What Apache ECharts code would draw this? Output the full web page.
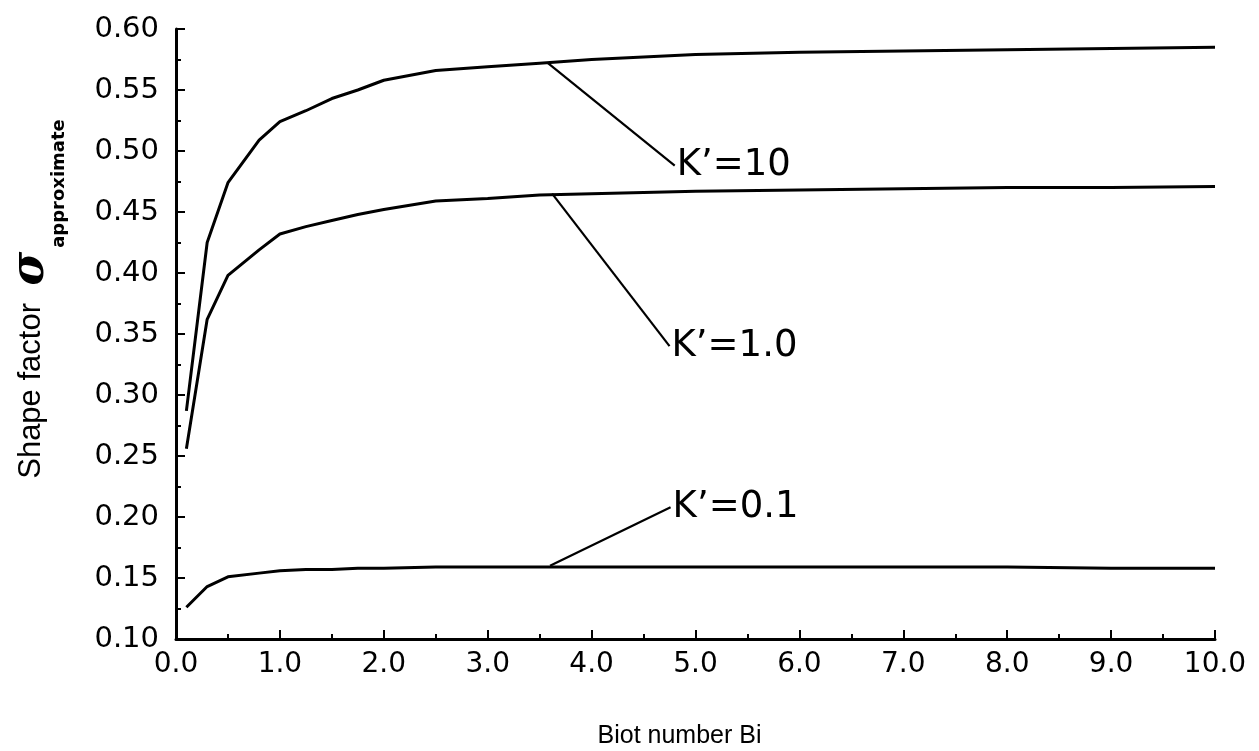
<!DOCTYPE html>
<html>
<head>
<meta charset="utf-8">
<script src="https://cdn.jsdelivr.net/npm/echarts@6/dist/echarts.min.js"></script>
<style>
html,body{margin:0;padding:0;background:#fff;}
#chart{width:1259px;height:751px;}
</style>
</head>
<body>
<div id="chart"></div>
<script>
// Biot number values (x)
const biot = [0.1, 0.3, 0.5, 0.8, 1.0, 1.25, 1.5, 1.75, 2.0, 2.5, 3.0, 3.5, 4.0, 5.0, 6.0, 7.0, 8.0, 9.0, 10.0];
// Shape factor curves
const k10 = [0.287, 0.425, 0.474, 0.509, 0.524, 0.533, 0.543, 0.550, 0.558, 0.566, 0.569, 0.572, 0.575, 0.579, 0.581, 0.582, 0.583, 0.584, 0.585];
const k1  = [0.256, 0.362, 0.398, 0.419, 0.432, 0.438, 0.443, 0.448, 0.452, 0.459, 0.461, 0.464, 0.465, 0.467, 0.468, 0.469, 0.470, 0.470, 0.471];
const k01 = [0.126, 0.143, 0.151, 0.154, 0.156, 0.157, 0.157, 0.158, 0.158, 0.159, 0.159, 0.159, 0.159, 0.159, 0.159, 0.159, 0.159, 0.158, 0.158];
const seriesNames = ["K’=10", "K’=1.0", "K’=0.1"];
// leader lines: [startBi, startValue, endBi, endValue]
const leader10 = [3.58, 0.572, 4.80, 0.488];
const leader1  = [3.62, 0.465, 4.75, 0.340];
const leader01 = [3.60, 0.160, 4.76, 0.208];
// axis ranges / ticks
const xRange = [0, 10, 1];
const yRange = [0.10, 0.60, 0.05];

const chart = echarts.init(document.getElementById('chart'), null, {renderer: 'canvas'});

function makeSeries(name, vals, ld) {
  return {
    name: name,
    type: 'line',
    data: biot.map((b, i) => [b, vals[i]]),
    symbol: 'none',
    smooth: false,
    lineStyle: {color: '#000', width: 3},
    z: 3,
    markLine: {
      silent: true,
      symbol: ['none', 'none'],
      lineStyle: {color: '#000', width: 2.2, type: 'solid'},
      label: {show: false},
      emphasis: {disabled: true},
      data: [[{coord: [ld[0], ld[1]]}, {coord: [ld[2], ld[3]]}]]
    },
    markPoint: {
      silent: true,
      symbol: 'circle',
      symbolSize: 0.1,
      itemStyle: {color: 'rgba(0,0,0,0)'},
      label: {
        show: true,
        position: 'right',
        distance: 2,
        formatter: name,
        color: '#000',
        fontFamily: 'DejaVu Sans',
        fontSize: 37
      },
      data: [{coord: [ld[2], ld[3]]}]
    }
  };
}

const option = {
  animation: false,
  backgroundColor: '#fff',
  grid: {left: 176, right: 44, top: 29, bottom: 112, containLabel: false, outerBoundsMode: 'none'},
  xAxis: {
    type: 'value',
    min: xRange[0], max: xRange[1], interval: xRange[2],
    name: 'Biot number Bi',
    nameLocation: 'middle',
    nameGap: 85,
    nameTextStyle: {color: '#000', fontFamily: 'Liberation Sans', fontSize: 25, padding: [0, 32, 0, 0]},
    axisLine: {show: true, onZero: false, lineStyle: {color: '#000', width: 3}},
    axisTick: {show: true, inside: true, length: 9, lineStyle: {color: '#000', width: 2}},
    minorTick: {show: true, splitNumber: 2, length: 5, lineStyle: {color: '#000', width: 2}},
    splitLine: {show: false},
    axisLabel: {
      color: '#000', fontFamily: 'DejaVu Sans', fontSize: 28, margin: 12,
      formatter: v => v.toFixed(1)
    }
  },
  yAxis: {
    type: 'value',
    min: yRange[0], max: yRange[1], interval: yRange[2],
    name: '{a|Shape factor  }{s|σ}{b|approximate}',
    nameLocation: 'middle',
    nameRotate: 90,
    nameGap: 122,
    nameTextStyle: {
      padding: [0, 0, 0, 70],
      rich: {
        a: {color: '#000', fontFamily: 'Liberation Sans', fontSize: 31, verticalAlign: 'middle'},
        s: {color: '#000', fontFamily: 'DejaVu Serif', fontSize: 46, fontStyle: 'italic', fontWeight: 'bold', verticalAlign: 'middle'},
        b: {color: '#000', fontFamily: 'DejaVu Sans', fontSize: 18, fontWeight: 'bold', verticalAlign: 'bottom', padding: [0, 0, -14, 4]}
      }
    },
    axisLine: {show: true, onZero: false, lineStyle: {color: '#000', width: 3}},
    axisTick: {show: true, inside: true, length: 9, lineStyle: {color: '#000', width: 2}},
    minorTick: {show: true, splitNumber: 2, length: 5, lineStyle: {color: '#000', width: 2}},
    splitLine: {show: false},
    axisLabel: {
      color: '#000', fontFamily: 'DejaVu Sans', fontSize: 29, margin: 17,
      formatter: v => v.toFixed(2)
    }
  },
  series: [
    makeSeries(seriesNames[0], k10, leader10),
    makeSeries(seriesNames[1], k1, leader1),
    makeSeries(seriesNames[2], k01, leader01)
  ]
};
chart.setOption(option);
</script>
</body>
</html>
